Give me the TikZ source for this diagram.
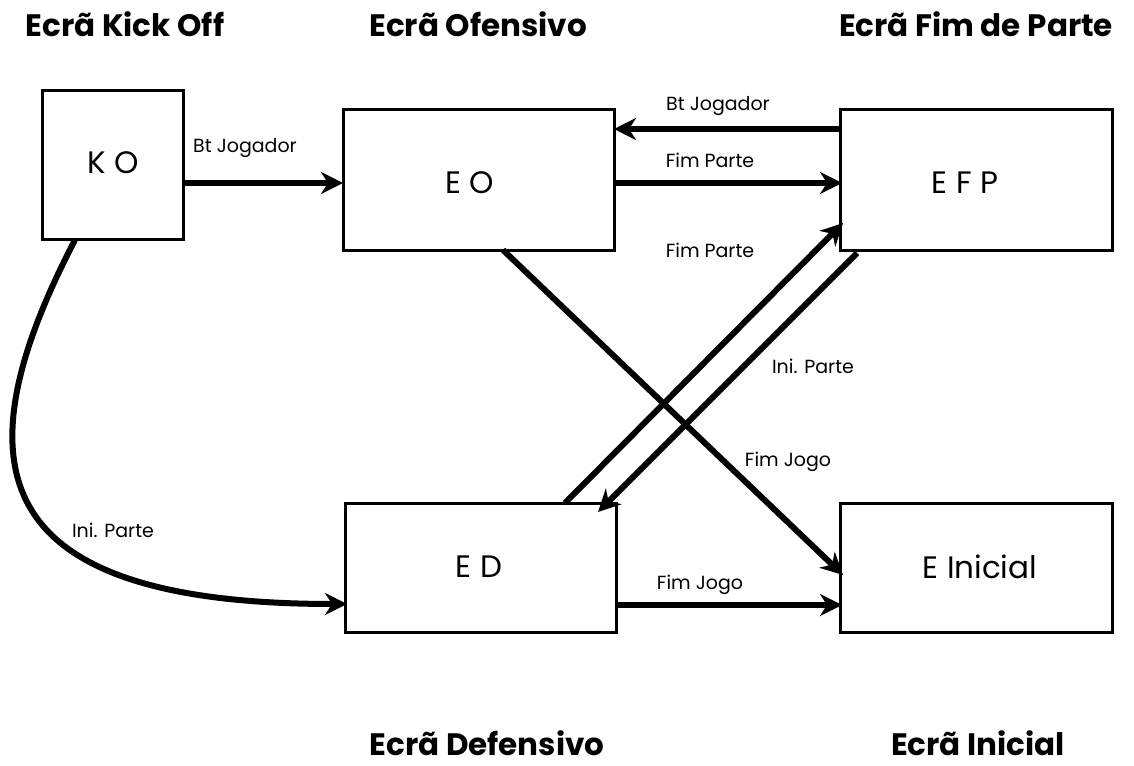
\documentclass[tikz,border=0pt]{standalone}
\usepackage{fontspec}
\setmainfont{Poppins}
\usetikzlibrary{arrows.meta}
\begin{document}
\begin{tikzpicture}[x=1pt,y=-1pt,
  box/.style={draw,line width=3pt},
  boxtext/.style={font=\fontsize{31}{33}\selectfont},
  title/.style={font=\fontsize{31}{34}\selectfont\bfseries,inner sep=0pt},
  lab/.style={font=\fontsize{19}{22}\selectfont},
  arr/.style={line width=6pt,-{Stealth[length=22pt,width=22pt,inset=7pt]}}]
\useasboundingbox (0,0) rectangle (1134,765);
% titles
\node[title] (t1) at (125,24) {Ecrã Kick Off};
\node[title] (t2) at (478,24) {Ecrã Ofensivo};
\node[title] (t3) at (976,24) {Ecrã Fim de Parte};
\node[title] (t4) at (487,743) {Ecrã Defensivo};
\node[title] (t5) at (978,743) {Ecrã Inicial};
% boxes
\draw[box] (42,91) rectangle (183,239);
\draw[box] (343,110) rectangle (614,250);
\draw[box] (840,110) rectangle (1112,250);
\draw[box] (345,503) rectangle (616,632);
\draw[box] (840,503) rectangle (1112,632);
\node[boxtext] (ko) at (113,163) {K O};
\node[boxtext] (eo) at (470,183) {E O};
\node[boxtext] (efp) at (965,183) {E F P};
\node[boxtext] (ed) at (479,567) {E D};
\node[boxtext] (ei) at (980,567) {E Inicial};
% connector endpoints
\coordinate (a1) at (183,183); \coordinate (a2) at (343,183);
\coordinate (b1) at (840,129); \coordinate (b2) at (614,129);
\coordinate (c1) at (614,183); \coordinate (c2) at (842,183);
\coordinate (d1) at (565,503); \coordinate (d2) at (843,223);
\coordinate (e1) at (857,253); \coordinate (e2) at (598,512);
\coordinate (f1) at (503,250); \coordinate (f2) at (843,575);
\coordinate (g1) at (616,605); \coordinate (g2) at (842,605);
\coordinate (h1) at (75,240); \coordinate (h2) at (347,604);
% arrows
\draw[arr] (a1) -- (a2);
\draw[arr] (b1) -- (b2);
\draw[arr] (c1) -- (c2);
\draw[arr] (d1) -- (d2);
\draw[arr] (e1) -- (e2);
\draw[arr] (f1) -- (f2);
\draw[arr] (g1) -- (g2);
\draw[arr] (h1) .. controls (-45,470) and (-10,604) .. (h2);
% labels
\node[lab] (l1) at (245,148) {Bt Jogador};
\node[lab] (l2) at (718,106) {Bt Jogador};
\node[lab] (l3) at (710,160) {Fim Parte};
\node[lab] (l4) at (710,250) {Fim Parte};
\node[lab] (l5) at (813,366) {Ini. Parte};
\node[lab] (l6) at (788,462) {Fim Jogo};
\node[lab] (l7) at (700,585) {Fim Jogo};
\node[lab] (l8) at (113,530) {Ini. Parte};
\end{tikzpicture}
\end{document}
